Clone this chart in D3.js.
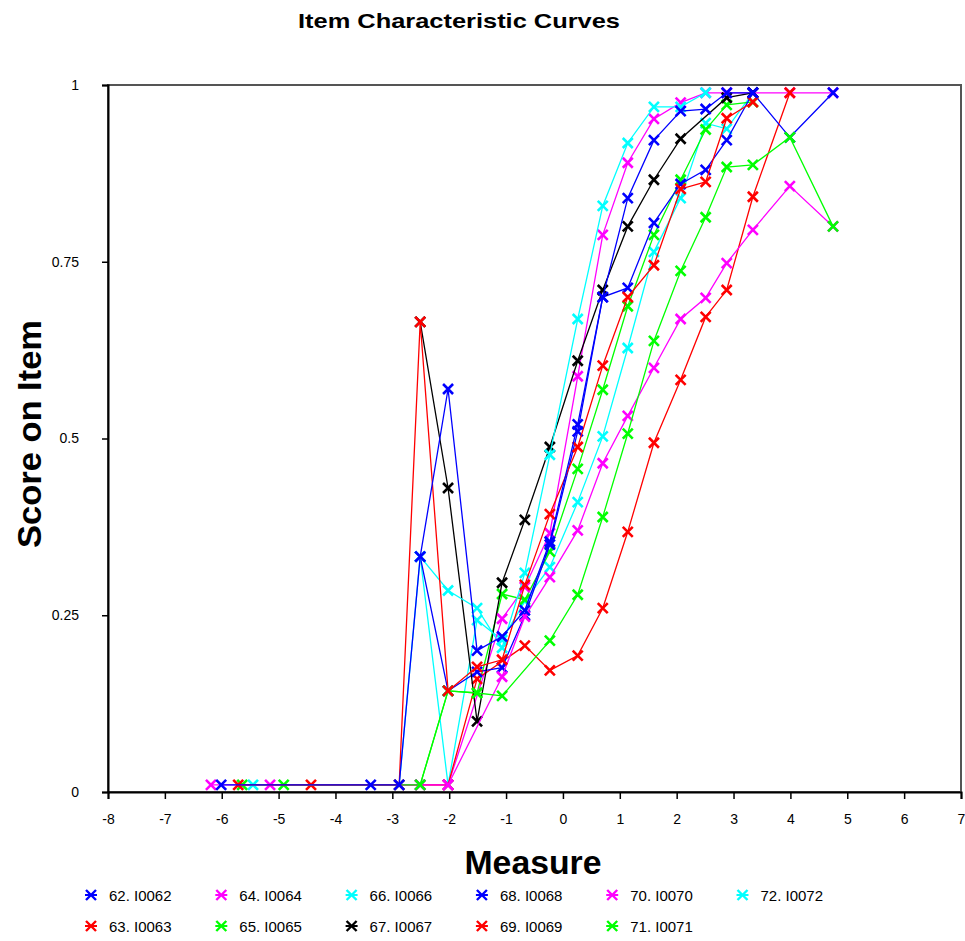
<!DOCTYPE html>
<html><head><meta charset="utf-8">
<script src="https://cdn.jsdelivr.net/npm/d3@7"></script>
<style>body{margin:0;background:#fff;} svg{display:block;font-family:Arial,"Liberation Sans",sans-serif;}</style>
</head><body><svg id="chart" width="965" height="941"></svg>
<script>
// ---- data ----
const chartTitle = "Item Characteristic Curves";
const xTitle = "Measure";
const yTitle = "Score on Item";
const xTicks = [-8,-7,-6,-5,-4,-3,-2,-1,0,1,2,3,4,5,6,7];
const yTicks = [0,0.25,0.5,0.75,1];
const yTickLabels = ["0","0.25","0.5","0.75","1"];
const seriesNames = ["62. I0062","63. I0063","64. I0064","65. I0065","66. I0066","67. I0067","68. I0068","69. I0069","70. I0070","71. I0071","72. I0072"];
const seriesColors = ["#0000ff","#ff0000","#ff00ff","#00ff00","#00ffff","#000000","#0000ff","#ff0000","#ff00ff","#00ff00","#00ffff"];
// stacking order (first drawn = bottom)
const drawOrder = ["72. I0072","71. I0071","70. I0070","69. I0069","68. I0068","67. I0067","66. I0066","64. I0064","65. I0065","63. I0063","62. I0062"];

const measures62 = [-6.01,-3.38,-2.88,-2.51,-2.02,-1.51,-1.07,-0.67,-0.23,0.26,0.70,1.14,1.60,2.07,2.51,2.88,3.34];
const scores62   = [0.01,0.01,0.01,0.333,0.57,0.20,0.22,0.257,0.354,0.52,0.70,0.84,0.922,0.963,0.966,0.989,0.989];
const measures63 = [-5.71,-2.88,-2.51,-2.02,-1.51,-1.07,-0.67,-0.23,0.26,0.70,1.14,1.60,2.07,2.51,2.88,3.34];
const scores63   = [0.01,0.01,0.665,0.143,0.177,0.187,0.293,0.393,0.488,0.603,0.70,0.745,0.853,0.863,0.953,0.976];
const measures64 = [-5.15,-2.51,-2.02,-1.07,-0.67,-0.23,0.26,0.70,1.14,1.60,2.07,2.51,2.88,3.34,3.99,4.75];
const scores64   = [0.01,0.01,0.01,0.163,0.248,0.304,0.37,0.465,0.532,0.60,0.669,0.699,0.748,0.795,0.857,0.80];
const measures65 = [-4.91,-2.51,-2.02,-1.51,-1.07,-0.23,0.26,0.70,1.14,1.60,2.07,2.51,2.88,3.34,3.99,4.75];
const scores65   = [0.01,0.01,0.143,0.14,0.136,0.214,0.279,0.389,0.507,0.638,0.737,0.813,0.884,0.887,0.926,0.80];
const measures66 = [-5.45,-2.88,-2.51,-2.02,-1.51,-1.07,-0.67,-0.23,0.26,0.70,1.14,1.60,2.07,2.51];
const scores66   = [0.01,0.01,0.333,0.285,0.26,0.204,0.31,0.477,0.669,0.829,0.918,0.969,0.969,0.989];
const measures67 = [-2.51,-2.02,-1.51,-1.07,-0.67,-0.23,0.26,0.70,1.14,1.60,2.07,2.88,3.34];
const scores67   = [0.665,0.43,0.10,0.296,0.385,0.488,0.61,0.71,0.80,0.866,0.924,0.982,0.989];
const measures68 = [-2.51,-2.02,-1.51,-1.07,-0.67,-0.23,0.26,0.70,1.14,1.60,2.07,2.51,2.88,3.34,3.99,4.75];
const scores68   = [0.333,0.143,0.17,0.176,0.25,0.35,0.51,0.70,0.713,0.805,0.86,0.88,0.922,0.989,0.926,0.989];
const measures69 = [-4.43,-2.02,-1.51,-0.67,-0.23,0.26,0.70,1.14,1.60,2.07,2.51,2.88,3.34,3.99];
const scores69   = [0.01,0.01,0.16,0.207,0.172,0.193,0.26,0.368,0.494,0.583,0.672,0.71,0.842,0.989];
const measures70 = [-6.19,-2.51,-2.02,-1.07,-0.67,-0.23,0.26,0.70,1.14,1.60,2.07,2.51,2.88,3.34,3.99,4.75];
const scores70   = [0.01,0.01,0.01,0.245,0.29,0.366,0.588,0.788,0.89,0.952,0.975,0.989,0.989,0.989,0.989,0.989];
const measures71 = [-5.64,-2.51,-2.02,-1.51,-1.07,-0.67,-0.23,0.26,0.70,1.14,1.60,2.07,2.51,2.88,3.34];
const scores71   = [0.01,0.01,0.143,0.14,0.28,0.272,0.34,0.457,0.569,0.687,0.788,0.866,0.937,0.972,0.976];
const measures72 = [-2.51,-2.02,-1.51,-1.07,-0.67,-0.23,0.26,0.70,1.14,1.60,2.07,2.51,2.88,3.34];
const scores72   = [0.333,0.01,0.243,0.215,0.27,0.318,0.41,0.503,0.628,0.764,0.84,0.946,0.938,0.989];

const allMeasures = [measures62,measures63,measures64,measures65,measures66,measures67,measures68,measures69,measures70,measures71,measures72];
const allScores   = [scores62,scores63,scores64,scores65,scores66,scores67,scores68,scores69,scores70,scores71,scores72];
const series = seriesNames.map((name,i)=>({name, color:seriesColors[i],
  points: allMeasures[i].map((m,j)=>({m, s:allScores[i][j]}))}));

// ---- layout ----
const svg = d3.select("#chart");
const x = d3.scaleLinear().domain([-8,7]).range([108,961]);
const y = d3.scaleLinear().domain([0,1]).range([792,85]);

svg.append("rect").attr("width",965).attr("height",941).attr("fill","#fff");

// plot frame
svg.append("rect").attr("x",x(-8)).attr("y",y(1)).attr("width",x(7)-x(-8)).attr("height",y(0)-y(1))
  .attr("fill","none").attr("stroke","#555").attr("stroke-width",2);

// axes
const xAxis = d3.axisBottom(x).tickValues(xTicks).tickSize(7).tickPadding(15).tickFormat(d=>String(d));
const gx = svg.append("g").attr("transform",`translate(0,${y(0)})`).call(xAxis);
const yAxis = d3.axisLeft(y).tickValues(yTicks).tickSize(6).tickPadding(23).tickFormat((d,i)=>yTickLabels[i]);
const gy = svg.append("g").attr("transform",`translate(${x(-8)},0)`).call(yAxis);
[gx,gy].forEach(g=>{
  g.select(".domain").attr("stroke","#000").attr("stroke-width",2);
  g.selectAll(".tick line").attr("stroke","#000").attr("stroke-width",1.5);
  g.selectAll(".tick text").attr("fill","#000").attr("font-size",14).attr("font-family","Arial, 'Liberation Sans', sans-serif");
});

// series
const line = d3.line().x(d=>x(d.m)).y(d=>y(d.s));
const cross = "M-5,-5L5,5M-5,5L5,-5";
const plot = svg.append("g");
drawOrder.map(n=>series.find(s=>s.name===n)).forEach(s=>{
  const g = plot.append("g");
  g.append("path").datum(s.points).attr("d",line).attr("fill","none")
    .attr("stroke",s.color).attr("stroke-width",1.3);
  g.selectAll("path.mk").data(s.points).join("path").attr("class","mk")
    .attr("d",cross).attr("transform",d=>`translate(${x(d.m)},${y(d.s)})`)
    .attr("stroke",s.color).attr("stroke-width",2.6).attr("fill","none");
});

// titles
svg.append("text").attr("x",459).attr("y",28).attr("text-anchor","middle")
  .attr("font-size",21).attr("font-weight","bold").attr("textLength",322).attr("lengthAdjust","spacingAndGlyphs")
  .text(chartTitle);
svg.append("text").attr("x",533).attr("y",874).attr("text-anchor","middle")
  .attr("font-size",34).attr("font-weight","bold").attr("textLength",137).attr("lengthAdjust","spacingAndGlyphs")
  .text(xTitle);
svg.append("text").attr("transform","translate(41,434) rotate(-90)").attr("text-anchor","middle")
  .attr("font-size",34).attr("font-weight","bold").attr("textLength",228).attr("lengthAdjust","spacingAndGlyphs")
  .text(yTitle);

// legend
const legend = svg.append("g");
series.forEach((s,i)=>{
  const col = Math.floor(i/2), row = i%2;
  const lx = 91 + col*130.3, ly = 895 + row*31;
  const g = legend.append("g").attr("transform",`translate(${lx},${ly})`);
  g.append("line").attr("x1",-6).attr("x2",6).attr("y1",0).attr("y2",0).attr("stroke",s.color).attr("stroke-width",2);
  g.append("path").attr("d",cross).attr("stroke",s.color).attr("stroke-width",2.4).attr("fill","none");
  g.append("text").attr("x",18).attr("y",5.5).attr("font-size",15).attr("fill","#000").text(s.name);
});
</script></body></html>
